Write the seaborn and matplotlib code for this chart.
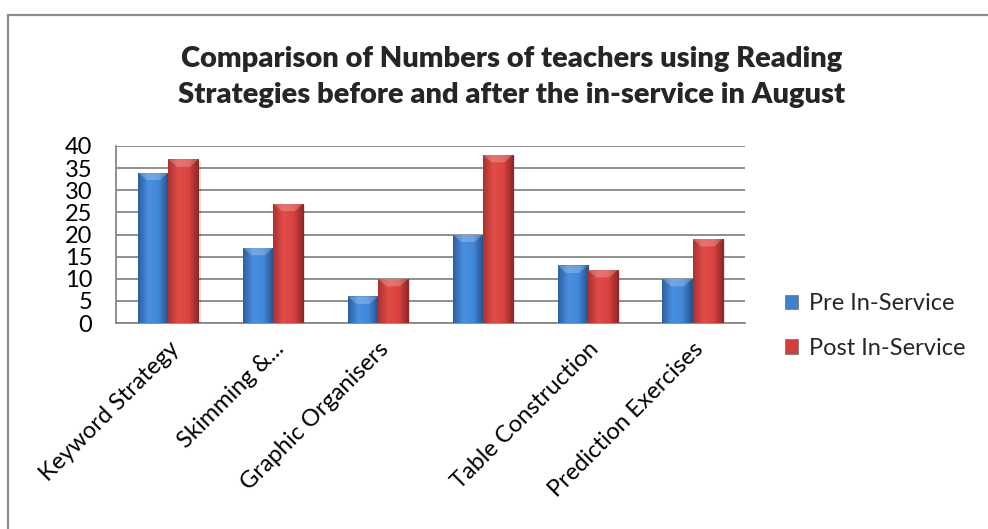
import numpy as np
import pandas as pd
import matplotlib
matplotlib.use("Agg")
import matplotlib.pyplot as plt
from matplotlib.colors import LinearSegmentedColormap
from matplotlib.patches import Patch, Rectangle, Polygon
import seaborn as sns

# data
strategies = ["Keyword Strategy", "Skimming & Scanning", "Graphic Organisers",
              "Strategy 4", "Table Construction", "Prediction Exercises"]
tick_labels = ["Keyword Strategy", "Skimming &...", "Graphic Organisers",
               "", "Table Construction", "Prediction Exercises"]
pre_service = [34, 17, 6, 20, 13, 10]
post_service = [37, 27, 10, 38, 12, 19]
series_names = ["Pre In-Service", "Post In-Service"]

df = pd.DataFrame({
    "Strategy": strategies * 2,
    "Teachers": pre_service + post_service,
    "Series": [series_names[0]] * len(strategies) + [series_names[1]] * len(strategies),
})

sns.set_style("white")
plt.rcParams["font.family"] = ["Lato", "DejaVu Sans"]

base_colors = {"Pre In-Service": "#3f7fcf", "Post In-Service": "#d43f3c"}
grad_maps = {
    "Pre In-Service": LinearSegmentedColormap.from_list(
        "blu", ["#2d5f9f", "#4a8fe0", "#4288d8", "#244f8a"]),
    "Post In-Service": LinearSegmentedColormap.from_list(
        "red", ["#a83331", "#e24c48", "#da4340", "#8c2624"]),
}

fig = plt.figure(figsize=(9.88, 5.29), dpi=100)
ax = fig.add_axes([116 / 988, 1 - 323 / 529, (745 - 116) / 988, (323 - 146) / 529])

sns.barplot(data=df, x="Strategy", y="Teachers", hue="Series", order=strategies,
            hue_order=series_names, palette=base_colors, width=0.575, gap=0,
            legend=False, saturation=1, ax=ax, zorder=3, edgecolor="none")

# gradient shading inside each bar, Excel-2007 style
n = len(strategies)
grad = np.linspace(0, 1, 64).reshape(1, -1)
cap = 1.7  # bevel depth in data units
for i, bar in enumerate(list(ax.patches)):
    h = bar.get_height()
    if not h or np.isnan(h):
        continue
    name = series_names[0] if i < n else series_names[1]
    x0, w = bar.get_x(), bar.get_width()
    im = ax.imshow(grad, extent=[x0, x0 + w, 0, h], aspect="auto",
                   cmap=grad_maps[name], zorder=3.1, interpolation="bicubic")
    im.set_clip_path(bar)
    # lighter bevel on top
    ax.add_patch(Polygon([(x0, h), (x0 + w, h), (x0 + 0.72 * w, h - cap), (x0 + 0.28 * w, h - cap)],
                         closed=True, facecolor="white", alpha=0.22, lw=0, zorder=3.2))
    # soft shadow
    ax.add_patch(Rectangle((x0 + 0.02, -0.3), w, h, color="#000000", alpha=0.12,
                           zorder=2.9, lw=0))

ax.set_xlim(-0.5, n - 0.5)
ax.set_ylim(0, 40)
ax.set_yticks(range(0, 41, 5))
ax.set_xlabel("")
ax.set_ylabel("")
ax.yaxis.grid(True, color="#878787", lw=1.3, zorder=0)
ax.set_axisbelow(True)
for side in ["top", "right"]:
    ax.spines[side].set_visible(False)
for side in ["left", "bottom"]:
    ax.spines[side].set_color("#878787")
    ax.spines[side].set_linewidth(1.3)
ax.tick_params(axis="y", length=5, color="#878787", width=1.3, pad=12,
               labelsize=17, labelcolor="black")
ax.tick_params(axis="x", length=0, pad=11, labelsize=17, labelcolor="black")
ax.set_xticks(range(n))
ax.set_xticklabels(tick_labels, rotation=45, ha="right", rotation_mode="anchor")

fig.text(512 / 988, 1 - 77 / 529,
         "Comparison of Numbers of teachers using Reading\n"
         "Strategies before and after the in-service in August",
         ha="center", va="center", fontsize=21, fontweight="heavy", linespacing=1.45)

handles = [Patch(facecolor=base_colors[s], edgecolor="#5a5a5a", lw=0.4) for s in series_names]
fig.legend(handles, series_names, loc="center left",
           bbox_to_anchor=(785 / 988, 1 - 326 / 529), frameon=False, fontsize=17,
           handlelength=0.55, handleheight=0.55, handletextpad=0.45,
           labelspacing=1.0, borderpad=0, borderaxespad=0)

fig.add_artist(Rectangle((8 / 988, -0.1), 1.2, 0.1 + 1 - 15 / 529, transform=fig.transFigure,
                         fill=False, edgecolor="#8c8c8c", lw=1.6, clip_on=False))

fig.savefig("out.png", dpi=100)
